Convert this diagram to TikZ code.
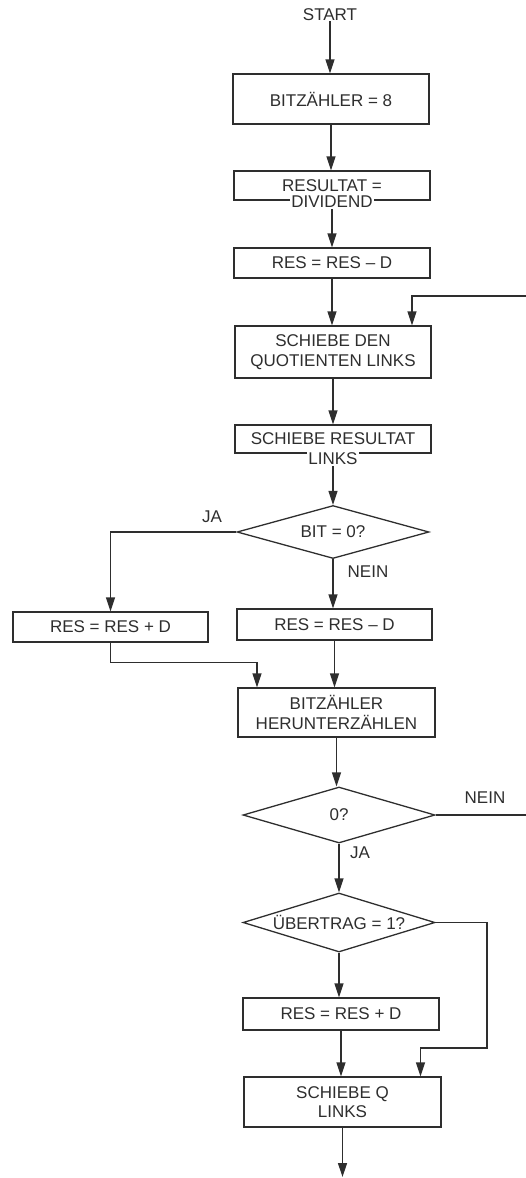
\documentclass[tikz,border=0pt]{standalone}
\usepackage{fontspec}
\setmainfont{Liberation Sans}
\usepackage{tikz}
\definecolor{trait}{HTML}{2E2E2E}
\usetikzlibrary{shapes,arrows.meta,calc}

\begin{document}
\begin{tikzpicture}[x=1pt,y=-1pt,
  boite/.style={draw=trait,line width=1.3pt,minimum width=196pt,inner sep=0pt,
    font=\fontsize{17}{19.5}\selectfont,text=trait,align=center},
  losange/.style={diamond,draw=trait,line width=1.3pt,aspect=3.4,inner sep=0pt,
    minimum width=192pt,font=\fontsize{17}{19.5}\selectfont,text=trait},
  txt/.style={text=trait,font=\fontsize{17}{19.5}\selectfont,inner sep=0pt},
  fl/.style={draw=trait,line width=1.3pt,-{Triangle[length=14pt,width=9pt]}}]
  \useasboundingbox (0,0) rectangle (526,1178);
  \clip (0,0) rectangle (526,1178);

  % boites
  \node[txt] (start) at (330,15) {START};
  \node[boite,minimum height=50pt] (b1) at (331,99) {BITZÄHLER = 8};
  \node[boite,minimum height=29pt] (b2) at (332,185.5) {RESULTAT =};
  \node[txt,fill=white,inner sep=1pt] (b2b) at (332,202) {DIVIDEND};
  \node[boite,minimum height=30pt] (b3) at (332,263) {RES = RES – D};
  \node[boite,minimum height=52pt] (b4) at (333,352) {SCHIEBE DEN\\QUOTIENTEN LINKS};
  \node[boite,minimum height=28pt] (b5) at (333,439) {SCHIEBE RESULTAT};
  \node[txt,fill=white,inner sep=1pt] (b5b) at (333,459) {LINKS};
  \node[boite,minimum width=195pt,minimum height=30pt] (b6) at (110.5,627) {RES = RES + D};
  \node[boite,minimum width=195pt,minimum height=31pt] (b7) at (334.5,624.5) {RES = RES – D};
  \node[boite,minimum width=197pt,minimum height=49pt] (b8) at (336.5,712.5) {BITZÄHLER\\HERUNTERZÄHLEN};
  \node[boite,minimum height=32pt] (b9) at (341,1014) {RES = RES + D};
  \node[boite,minimum width=197pt,minimum height=50pt] (b10) at (342.5,1102) {SCHIEBE Q\\LINKS};

  % tests
  \node[losange,minimum height=53pt] (d1) at (333,532) {BIT = 0?};
  \node[losange,minimum height=56pt] (d2) at (339,815) {0?};
  \node[losange,minimum height=59pt] (d3) at (339,922.5) {ÜBERTRAG = 1?};

  % etiquettes
  \node[txt] (ja1) at (212,517) {JA};
  \node[txt] (nein1) at (368,572) {NEIN};
  \node[txt] (nein2) at (485,798) {NEIN};
  \node[txt] (ja2) at (360,853) {JA};

  \coordinate (r1) at (545,296);
  \coordinate (c2) at (487,1048);
  \coordinate (fin) at (342.5,1177);

  % fleches
  \draw[fl] (start.south) -- (start.south |- b1.north);
  \draw[fl] (b1.south) -- (b1.south |- b2.north);
  \draw[fl] (b2b.south) -- (b2b.south |- b3.north);
  \draw[fl] (b3.south) -- (b3.south |- b4.north);
  \draw[fl] (b4.south) -- (b4.south |- b5.north);
  \draw[fl] (b5b.south) -- (b5b.south |- d1.north);
  \draw[fl] (d1.west) -| (b6.north);
  \draw[fl] (d1.south) -- (d1.south |- b7.north);
  \draw[fl] (b6.south) -- ++(0,20) -| ([xshift=-79.5pt]b8.north);
  \draw[fl] (b7.south) -- (b7.south |- b8.north);
  \draw[fl] (b8.south) -- (b8.south |- d2.north);
  \draw[fl] (d2.east) -- (d2.east -| r1) -- (r1) -| ([xshift=79pt]b4.north);
  \draw[fl] (d2.south) -- (d2.south |- d3.north);
  \draw[fl] (d3.south) -- (d3.south |- b9.north);
  \draw[fl] (d3.east) -| (c2) -| ([xshift=78pt]b10.north);
  \draw[fl] (b9.south) -- (b9.south |- b10.north);
  \draw[fl] (b10.south) -- (fin);
\end{tikzpicture}
\end{document}
